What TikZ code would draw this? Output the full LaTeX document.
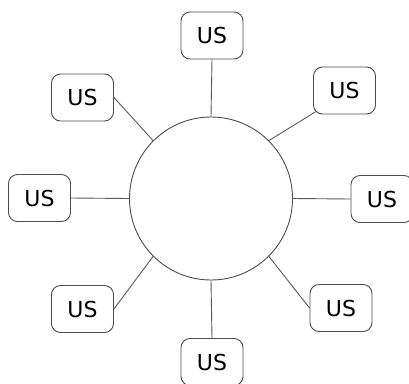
\documentclass[tikz,border=0pt]{standalone}
\usepackage{fontspec}
\setmainfont{DejaVu Sans}
\begin{document}
\begin{tikzpicture}[x=1pt,y=-1pt,
  usbox/.style={draw=black!70, line width=0.9pt, rounded corners=9pt, minimum width=62pt, minimum height=47pt, inner sep=0pt, font=\fontsize{22}{26}\selectfont},
  hub/.style={draw=black!70, line width=0.9pt, circle, minimum size=163pt, inner sep=0pt},
  link/.style={draw=black!65, line width=0.9pt}]
\useasboundingbox (0,0) rectangle (409,383);
\node[hub] (c) at (211,198.5) {};
\node[usbox] (t) at (212,35.5) {US};
\node[usbox] (tr) at (344.5,90.5) {US};
\node[usbox] (r) at (382,199) {US};
\node[usbox] (br) at (341,308) {US};
\node[usbox] (b) at (212,362) {US};
\node[usbox] (bl) at (82.5,309) {US};
\node[usbox] (l) at (39.5,198) {US};
\node[usbox] (tl) at (82.5,97.5) {US};
\draw[link] (t.south) -- (c.north);
\draw[link] ([shift={(3,-3)}]tr.south west) -- (c.45);
\draw[link] (r.west) -- (c.east);
\draw[link] (br.west) -- (c.-45);
\draw[link] (b.north) -- (c.south);
\draw[link] (bl.east) -- (c.-135);
\draw[link] (l.east) -- (c.west);
\draw[link] (tl.east) -- (c.135);
\end{tikzpicture}
\end{document}
